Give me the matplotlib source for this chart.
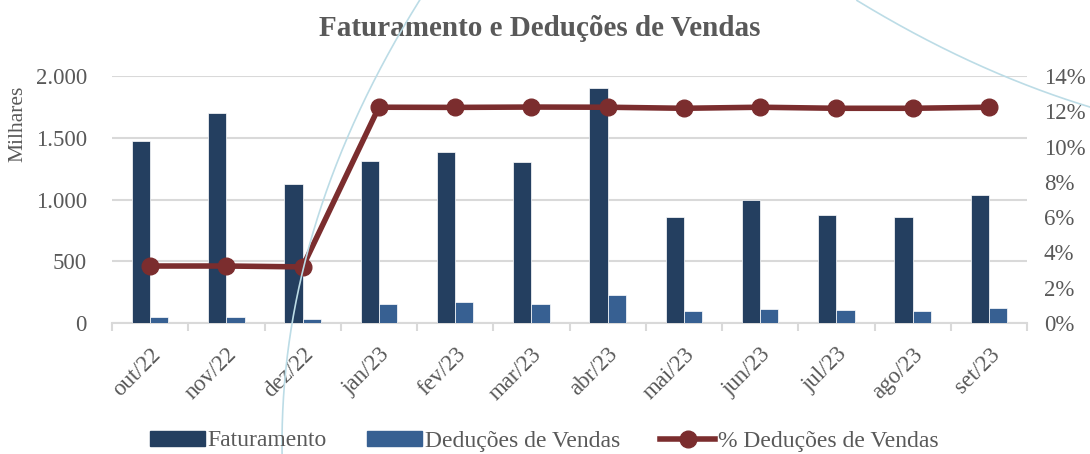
import numpy as np
import matplotlib
matplotlib.use("Agg")
import matplotlib.pyplot as plt
from matplotlib.lines import Line2D
from matplotlib.patches import Patch
from matplotlib.ticker import FuncFormatter, MultipleLocator

# ----------------------------
# Data (milhares de R$)
# ----------------------------
meses = ["out/22", "nov/22", "dez/22", "jan/23", "fev/23", "mar/23",
         "abr/23", "mai/23", "jun/23", "jul/23", "ago/23", "set/23"]
faturamento = [1470, 1700, 1128, 1312, 1387, 1304, 1903, 858, 997, 878, 858, 1038]
deducoes = [46, 51, 32, 157, 167, 157, 229, 100, 116, 105, 100, 121]
pct_deducoes = [0.0323, 0.0323, 0.0318, 0.1223, 0.1222, 0.1224,
                0.1223, 0.1217, 0.1223, 0.1217, 0.1217, 0.1223]

DARK = "#243F60"
LIGHT = "#376092"
RED = "#7B2D2E"
GRAY = "#595959"
GRID = "#D9D9D9"
ARC = "#BCDCE6"

plt.rcParams['font.family'] = ['Liberation Serif', 'DejaVu Serif']

W, H = 1090, 454
fig = plt.figure(figsize=(W / 100, H / 100), dpi=100)
ax = fig.add_axes([112 / W, 1 - 323 / H, (1027 - 112) / W, (323 - 76) / H])
ax2 = ax.twinx()

x = np.arange(len(meses))
bw = 0.24
ax.bar(x - bw / 2, faturamento, bw, color=DARK, edgecolor="white", linewidth=0.5,
       label="Faturamento", zorder=3)
ax.bar(x + bw / 2, deducoes, bw, color=LIGHT, edgecolor="white", linewidth=0.5,
       label="Deduções de Vendas", zorder=3)
ax2.plot(x, pct_deducoes, color=RED, lw=4, marker="o", ms=12, zorder=4,
         label="% Deduções de Vendas")

ax.set_xlim(-0.5, len(meses) - 0.5)
ax.set_ylim(0, 2000)
ax.yaxis.set_major_locator(MultipleLocator(500))
ax.yaxis.set_major_formatter(FuncFormatter(lambda v, p: f"{v:,.0f}".replace(",", ".")))
ax2.set_ylim(0, 0.14)
ax2.yaxis.set_major_locator(MultipleLocator(0.02))
ax2.yaxis.set_major_formatter(FuncFormatter(lambda v, p: f"{v * 100:.0f}%"))

ax.grid(axis="y", color=GRID, lw=1.5, zorder=0)
ax.set_axisbelow(True)
for a in (ax, ax2):
    for s in a.spines.values():
        s.set_visible(False)
ax.spines["bottom"].set_visible(True)
ax.spines["bottom"].set_color(GRID)
ax.spines["bottom"].set_linewidth(1.5)

ax.set_xticks(x)
ax.set_xticklabels(meses, rotation=45, ha="right", rotation_mode="anchor")
ax.set_xticks(np.arange(-0.5, len(meses)), minor=True)
ax.tick_params(axis="x", which="major", length=0, pad=15, labelsize=16.5, labelcolor=GRAY)
ax.tick_params(axis="x", which="minor", length=6, width=1.5, color=GRID)
ax.tick_params(axis="y", length=0, pad=18, labelsize=16.5, labelcolor=GRAY)
ax2.tick_params(axis="y", length=0, pad=12, labelsize=16.5, labelcolor=GRAY)

fig.text(18 / W, 1 - 124 / H, "Milhares", rotation=90, ha="center", va="center",
         fontsize=15.5, color=GRAY)
fig.text(540 / W, 1 - 29 / H, "Faturamento e Deduções de Vendas", ha="center", va="center",
         fontsize=21, fontweight="bold", color=GRAY)

handles = [Patch(color=DARK), Patch(color=LIGHT),
           Line2D([], [], color=RED, lw=4, marker="o", ms=12)]
labels = ["Faturamento", "Deduções de Vendas", "% Deduções de Vendas"]
leg = fig.legend(handles, labels, loc="center", bbox_to_anchor=(544 / W, 1 - 441 / H),
                 ncol=3, frameon=False, fontsize=17, handlelength=2.35,
                 handleheight=0.6, handletextpad=0.1, columnspacing=1.7)
for t in leg.get_texts():
    t.set_color(GRAY)

# decorative background arcs (pixel coords traced from the page)
arc1_y = np.array([0, 50, 150, 250, 300, 323, 367, 454])
arc1_x = np.array([420, 390, 342, 310, 294, 292, 287, 282])
yy = np.linspace(0, 454, 200)
xx = np.polyval(np.polyfit(arc1_y, arc1_x, 3), yy)
fig.add_artist(Line2D(xx / W, 1 - yy / H, transform=fig.transFigure,
                      color=ARC, lw=1.2, zorder=5))
arc2_x = np.array([857, 900, 950, 1000, 1090])
arc2_y = np.array([0, 27, 50, 75, 107])
xs = np.linspace(857, 1090, 200)
ys = np.polyval(np.polyfit(arc2_x, arc2_y, 2), xs)
fig.add_artist(Line2D(xs / W, 1 - ys / H, transform=fig.transFigure,
                      color=ARC, lw=1.2, zorder=5))

fig.savefig("out.png", dpi=100)
